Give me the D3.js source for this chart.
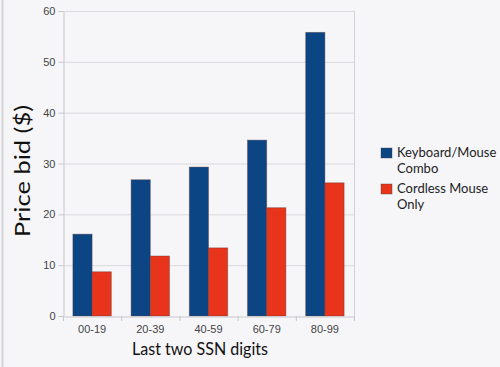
<!DOCTYPE html>
<html><head><meta charset="utf-8">
<script src="https://cdn.jsdelivr.net/npm/d3@7"></script>
<style>
html,body{margin:0;padding:0;background:#f6f6f9;}
svg{display:block;}
</style></head>
<body>
<svg id="chart" width="500" height="367"></svg>
<script>
const categories = ["00-19","20-39","40-59","60-79","80-99"];
const seriesNames = ["Keyboard/Mouse Combo","Cordless Mouse Only"];
const comboValues = [16.1, 26.8, 29.3, 34.6, 55.8];
const mouseValues = [8.7, 11.8, 13.4, 21.3, 26.2];
const yTicks = [0,10,20,30,40,50,60];
const colors = ["#0b4584","#e8341a"];
const legendLines = [["Keyboard/Mouse","Combo"],["Cordless Mouse","Only"]];

const svg = d3.select("#chart");
svg.append("rect").attr("width",500).attr("height",367).attr("fill","#f6f6f9");
svg.append("line").attr("x1",2.5).attr("x2",2.5).attr("y1",0).attr("y2",367).attr("stroke","#d4d4d8").attr("stroke-width",2);

const m = {l:63, r:354, t:11, b:316};
const x = d3.scaleBand().domain(categories).range([m.l, m.r]).paddingInner(0.34).paddingOuter(0.17);
const xs = d3.scaleBand().domain([0,1]).range([0, x.bandwidth()]);
const y = d3.scaleLinear().domain([0,60]).range([m.b, m.t]);

const g = svg.append("g");
g.selectAll("line.grid").data(yTicks.filter(d=>d>0)).join("line")
  .attr("x1",m.l).attr("x2",m.r).attr("y1",d=>y(d)+0.5).attr("y2",d=>y(d)+0.5)
  .attr("stroke","#d9d9de").attr("stroke-width",1);
g.append("line").attr("x1",m.r+0.5).attr("x2",m.r+0.5).attr("y1",m.t).attr("y2",m.b).attr("stroke","#d2d2d7");

const data = categories.map((c,i)=>({c, v:[comboValues[i], mouseValues[i]]}));
const grp = g.selectAll("g.grp").data(data).join("g").attr("transform",d=>`translate(${x(d.c)},0)`);
grp.selectAll("rect").data(d=>d.v.map((v,k)=>({v,k}))).join("rect")
  .attr("x",d=>xs(d.k)).attr("width",xs.bandwidth())
  .attr("y",d=>y(d.v)).attr("height",d=>y(0)-y(d.v))
  .attr("fill",d=>colors[d.k]).attr("stroke","#5a3a3a").attr("stroke-opacity",0.5).attr("stroke-width",0.8);

const yAxis = d3.axisLeft(y).tickValues(yTicks).tickSize(5).tickPadding(3);
const ya = svg.append("g").attr("transform",`translate(${m.l+0.5},0)`).call(yAxis);
ya.select(".domain").attr("stroke","#c8c8cc");
ya.selectAll(".tick line").attr("stroke","#c8c8cc");
ya.selectAll("text").attr("fill","#444").style("font-family","'Liberation Sans', Arial, sans-serif").style("font-size","11px");

const xAxis = d3.axisBottom(x).tickSize(0).tickPadding(9);
const xa = svg.append("g").attr("transform",`translate(0,${m.b+0.5})`).call(xAxis);
xa.select(".domain").attr("stroke","#c8c8cc");
xa.selectAll("text").attr("fill","#444").style("font-family","'Liberation Sans', Arial, sans-serif").style("font-size","11px");
const seps = d3.range(categories.length+1).map(i=>m.l + i*(m.r-m.l)/categories.length);
svg.selectAll("line.sep").data(seps).join("line")
  .attr("x1",d=>d+0.5).attr("x2",d=>d+0.5).attr("y1",m.b).attr("y2",m.b+5).attr("stroke","#c8c8cc");

svg.append("text").attr("transform","translate(30,171) rotate(-90)").attr("text-anchor","middle")
  .attr("textLength",132).attr("lengthAdjust","spacingAndGlyphs")
  .style("font-family","'Lato', 'Open Sans', sans-serif").style("font-size","21px").attr("fill","#111").text("Price bid ($)");
svg.append("text").attr("x",200).attr("y",355).attr("text-anchor","middle")
  .attr("textLength",136).attr("lengthAdjust","spacingAndGlyphs")
  .style("font-family","'Lato', 'Open Sans', sans-serif").style("font-size","18px").attr("fill","#111").text("Last two SSN digits");

const lg = svg.append("g");
const ly = [148, 184];
seriesNames.forEach((s,i)=>{
  lg.append("rect").attr("x",381).attr("y",ly[i]).attr("width",11).attr("height",10).attr("fill",colors[i]).attr("stroke","#444").attr("stroke-opacity",0.5).attr("stroke-width",0.8);
  const t = lg.append("text").attr("x",397).attr("y",ly[i]+9).style("font-family","'Lato', 'Open Sans', sans-serif").style("font-size","13px").attr("fill","#222");
  legendLines[i].forEach((ln,j)=>t.append("tspan").attr("x",397).attr("dy",j?16:0).text(ln));
});
</script>
</body></html>
